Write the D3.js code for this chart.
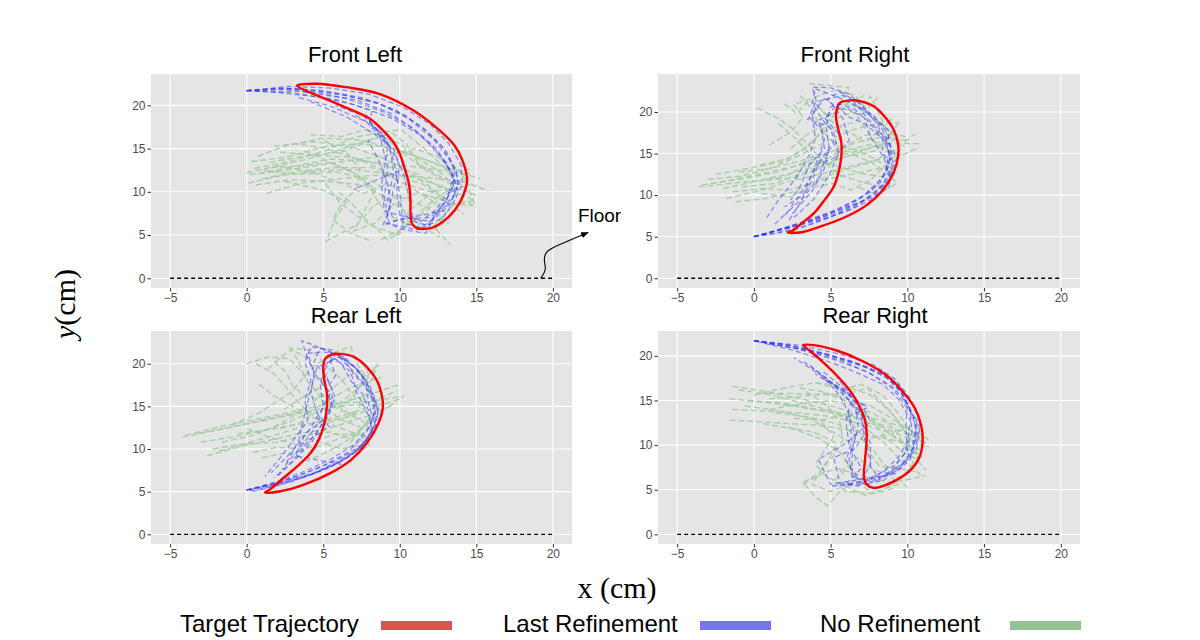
<!DOCTYPE html>
<html><head><meta charset="utf-8">
<script src="https://cdn.jsdelivr.net/npm/d3@7"></script>
<style>body{margin:0;background:#fff}</style>
</head><body><svg id="c" width="1200" height="640"></svg>
<script>
// ---------------- DATA ----------------
const panelNames = ["Front Left", "Front Right", "Rear Left", "Rear Right"];
const xTicks = [-5, 0, 5, 10, 15, 20];
const yTicks = [0, 5, 10, 15, 20];
const floorX = [-5, 20];
const legendLabels = ["Target Trajectory", "Last Refinement", "No Refinement"];
const floorArrow = [[19.2,0],[19.6,1],[19.4,2],[19.5,3],[20.0,3.6],[22.3,5.3]];
const floorLabelPos = [23.05, 6.5];

// Target trajectories (closed)
const targetFL = [[3.3,22.3],[4.6,22.5],[6.5,22.1],[8.7,21.3],[10.9,19.4],[12.6,17.1],[13.6,15.3],[14.1,13.6],[14.4,11.3],[14.1,9.4],[13.6,7.9],[12.8,6.5],[12.2,5.9],[11.5,5.7],[11.1,5.8],[10.8,6.3],[10.7,7.5],[10.7,9.0],[10.6,10.9],[10.3,12.8],[10.0,14.4],[9.6,15.7],[8.9,17.1],[8.1,18.4],[6.8,19.5],[5.5,20.5],[4.4,21.3],[3.5,22.0]];
const targetFR = [[2.2,5.5],[3.0,5.5],[4.3,6.2],[6.0,7.4],[7.35,8.8],[8.4,10.6],[9.1,12.65],[9.4,14.7],[9.4,16.1],[9.1,17.9],[8.4,19.7],[7.8,20.7],[6.9,21.3],[6.3,21.4],[5.6,21.1],[5.4,20.3],[5.35,19.3],[5.5,17.9],[5.7,16.3],[5.7,14.7],[5.5,12.65],[5.2,11.0],[4.6,9.4],[3.9,7.8],[3.1,6.6],[2.5,5.7]];
const targetRL = [[1.2,4.9],[2.2,5.05],[3.7,5.8],[5.5,7.2],[6.8,8.7],[7.85,10.7],[8.6,13.0],[8.9,14.95],[8.8,16.5],[8.5,18.06],[7.85,19.6],[7.0,20.8],[6.1,21.15],[5.5,21.05],[5.13,20.6],[5.0,19.6],[5.07,18.06],[5.24,16.5],[5.24,14.95],[5.07,13.0],[4.7,11.07],[4.16,9.5],[3.3,7.96],[2.4,6.6],[1.55,5.3]];
const targetRR = [[3.2,21.2],[3.9,21.2],[5.4,20.6],[7.1,19.4],[8.65,17.8],[9.75,15.9],[10.5,14.1],[10.9,12.2],[11.0,10.6],[10.8,8.7],[10.2,7.2],[9.3,6.1],[8.4,5.4],[7.8,5.2],[7.35,5.6],[7.17,6.5],[7.24,8.3],[7.35,10.9],[7.24,12.8],[6.8,14.6],[6.26,16.1],[5.4,17.8],[4.3,19.6],[3.55,20.7]];

// Last refinement trajectories (flat x,y lists)
const lastFL = [
 [0,21.7,2.5,22.0,5,21.7,7.5,20.9,9.8,19.4,11.5,17.4,12.8,15.1,13.6,12.6,13.4,10.1,12.6,7.9,11.8,6.1,10.9,6.6,10.6,9.4,10.2,12.4,9.3,15.4,7.8,18.1,5.5,19.9,3.4,20.9],
 [0,21.7,3,21.9,6,21.3,8.6,20.3,10.6,18.4,12.2,16.1,13.3,13.6,13.9,11.1,13.3,8.6,12.3,6.9,11.1,5.6,9.3,6.3,9.0,9.4,9.2,12.9,8.7,16.5,7.8,18.9],
 [0,21.7,2,21.5,4.5,21.0,7,20.1,9.5,18.5,11.3,16.6,12.6,14.3,13.5,11.9,13.1,9.3,12.3,7.3,11.7,5.2,10.3,5.6,9.1,6.4,9.6,10.4,9.9,12.4,7.0,10.3],
 [0,21.7,3.5,21.6,6.5,20.8,9,19.2,10.9,17.3,12.4,15.0,13.4,12.2,13.8,10.1,12.9,8.3,12.0,6.6,10.5,7.0,9.0,7.8,8.8,10.8,9.2,14.8,8.8,16.8,7.6,18.8,5.8,20.0],
 [0,21.7,2.8,22.2,5.5,22.0,8,21.3,10.2,19.8,12,17.8,13.2,15.6,14,13.1,14.1,10.9,13.5,8.7,12.8,7.0,11.5,5.8,10.2,6.4,10.0,9.8,9.6,13.6,9.2,15.7,8.3,17.6,7.0,19.0],
 [0,21.7,2.2,21.9,4.8,21.4,7.2,20.6,9.4,19.1,10.8,17.4,12.0,15.5,13.0,13.2,13.6,11.3,13.0,8.8,12.0,7.0,10.1,6.9,8.9,6.1,9.4,8.5,9.2,11.0,8.6,13.8,7.9,16.0],
 [0,21.7,2.0,22.0,4.2,21.8,6.4,21.2,8.6,20.2,10.4,18.8,11.8,17.0,13.0,14.8,13.7,12.4,13.8,10.6,13.0,9.6,12.4,8.0,11.4,6.6,10.0,7.4,9.8,10.2,10.0,13.0,9.6,15.0,8.4,16.6,6.6,18.6,4.2,20.4],
 [0,21.7,3.2,21.4,6.0,20.6,8.2,19.4,8.0,17.8,8.9,16.7,9.4,14.6,9.6,12.2,9.2,9.0,9.6,6.6,11.2,7.2,12.8,7.8,13.6,9.6,13.4,12.0,12.8,14.0]
];
const lastFR = [
 [0,5.0,1.5,5.8,3.2,6.8,5,8.0,6.8,9.5,8.2,11.4,8.8,13.5,8.9,15.8,8.3,18.2,7.2,20.2,6.0,21.3,5.0,20.6,4.7,18.3,4.9,15.8,4.6,13.2,3.8,10.5,2.5,7.8],
 [0,5.0,2,6.0,3.8,7.0,5.6,8.4,7.2,10.0,8.3,12.0,9.0,14.8,8.7,17.5,7.8,19.6,6.5,21.0,5.3,21.9,4.0,22.8,3.8,21.0,4.5,19.0,5.2,17.5,5.5,15.0,4.9,12.4,3.9,9.5,2.6,7.3],
 [0,5.0,1.8,5.6,3.5,6.4,5.4,7.7,7.0,9.2,8.4,11.2,9.0,13.6,8.6,16.4,7.9,18.9,7.0,20.8,6.2,22.2,5.0,22.9,3.8,23.0,4.2,20.5,3.5,19.1,5.0,18.2,5.2,16.5,4.3,14.0,3.7,11.5,3.0,9.0,2.3,7.0],
 [0,5.0,2.4,6.2,4.4,7.3,6.2,8.8,7.6,10.4,8.6,12.6,8.8,15.2,8.3,17.0,7.5,18.8,6.6,20.3,5.5,21.0,4.6,19.3,5.7,17.0,4.8,15.2,4.2,12.0,3.3,9.9,2.0,7.6],
 [0,5.0,1.5,5.4,3.0,6.0,4.8,7.2,6.5,8.5,7.9,10.2,8.8,12.3,9.3,14.4,8.9,16.0,8.0,18.0,7.1,19.9,6.4,21.6,5.6,22.4,4.8,21.6,5.8,19.2,6.2,16.6,5.2,14.4,4.2,13.8,3.2,10.6,2.2,8.0,1.3,6.4],
 [0,5.0,2.8,6.5,4.6,7.6,6.0,8.5,7.8,9.8,8.9,11.8,8.5,14.4,7.6,17.0,7.2,19.3,6.0,20.5,4.2,19.0,4.6,16.7,4.0,13.5,3.2,10.0,2.0,8.6],
 [0,5.0,2.2,6.0,4.0,7.0,5.8,8.2,7.4,9.6,8.6,11.4,9.2,13.4,8.7,15.6,8.8,17.8,7.8,19.4,6.8,21.2,5.8,22.0,4.0,21.2,3.6,19.4,4.4,17.8,4.6,15.6,3.6,13.6,3.0,11.0,2.4,9.4],
 [0,5.0,1.2,5.6,2.6,6.2,4.2,7.0,6.0,8.0,7.6,9.4,8.8,11.0,9.0,13.0,8.4,15.2,8.4,16.8,7.2,18.6,6.2,19.4,5.6,20.4,4.6,21.6,3.8,19.8,4.0,16.8,3.6,14.8,2.8,12.2,1.6,9.4,0.8,7.2]
];
const lastRL = [
 [0,5.2,1.6,5.8,3.3,6.8,5.0,8.0,6.6,9.6,7.7,11.6,8.3,13.6,8.3,15.8,7.8,18.0,7.0,19.8,6.0,20.8,5.2,20.0,4.8,17.6,5.0,15.2,4.6,12.8,3.6,10.4,2.3,7.6],
 [0,5.2,2.0,6.2,3.8,7.4,5.5,8.8,7.0,10.5,8.0,12.6,8.4,14.6,8.0,16.8,7.4,19.0,6.4,20.6,5.2,21.6,3.6,22.7,4.0,20.5,4.6,18.4,5.6,16.2,5.4,14.0,4.4,11.6,3.3,9.0,2.0,6.8],
 [0.4,5.0,2.2,5.8,4.0,6.9,5.8,8.2,7.2,9.8,8.1,11.8,8.6,14.2,8.2,16.6,7.5,18.6,6.4,20.8,5.0,21.4,4.0,21.2,4.4,19.0,4.2,16.6,4.6,14.2,5.4,12.6,4.0,11.0,3.0,8.6,1.8,6.6],
 [0,5.2,2.6,6.4,4.4,7.6,6.2,9.0,7.6,10.6,8.4,12.8,8.0,15.0,7.8,17.4,6.8,19.4,5.8,21.2,5.0,19.0,5.6,17.0,4.9,14.6,4.0,12.0,3.0,9.8,1.6,7.2],
 [0.2,5.1,1.4,5.5,3.0,6.2,4.8,7.4,6.4,8.8,7.6,10.4,8.4,12.4,8.6,14.8,8.0,17.6,7.2,19.4,6.0,21.0,4.8,21.8,4.4,20.2,5.2,18.6,5.8,16.0,5.0,13.4,3.8,11.8,3.2,9.2,6.2,8.2],
 [0,5.2,2.2,6.0,4.2,7.0,6.0,8.4,7.4,10.0,8.2,11.6,8.0,13.8,7.2,16.6,6.8,19.0,5.8,20.6,4.6,19.6,4.2,17.0,3.8,14.2,3.4,11.0,2.6,8.4],
 [0,5.2,1.8,5.8,3.6,6.6,5.4,7.8,6.8,9.2,7.8,11.0,8.4,13.0,8.4,15.4,7.8,17.2,7.0,18.8,6.4,20.4,5.6,21.6,4.2,22.0,3.8,20.2,4.2,18.0,3.8,15.8,4.0,13.4,3.2,11.4,2.2,9.0,1.2,6.8],
 [0.2,5.2,2.4,6.2,4.4,7.2,6.0,8.6,7.4,10.2,8.2,12.0,8.0,14.2,7.6,16.4,6.8,18.0,6.2,20.0,5.4,20.8,5.8,18.6,5.2,17.0,5.6,15.0,4.8,12.6,4.2,10.6,3.6,9.6]
];
const lastRR = [
 [0,21.7,2.5,21.1,5,20.0,7.2,18.8,8.8,17.4,9.8,15.4,10.4,13.2,10.6,11.0,10.2,8.8,9.4,7.2,8.2,6.2,7.6,7.6,7.6,10.2,7.0,12.8,6.2,15.0,4.8,17.4,3.2,19.4],
 [0,21.7,2.8,20.8,5.2,19.6,7.4,18.2,9.0,16.6,10.0,14.6,10.6,12.0,10.4,9.6,9.6,7.6,8.4,6.0,7.2,5.6,6.4,6.8,6.4,9.4,6.8,12.0,6.6,14.8,5.8,16.4,4.4,18.4],
 [0,21.7,2.2,21.0,4.6,20.2,6.8,19.0,8.6,17.8,9.6,16.0,10.2,13.8,10.3,11.4,9.8,9.0,9.0,7.2,7.4,5.6,5.0,5.4,7.0,5.8,7.6,8.0,7.2,10.8,7.0,13.6,5.6,16.2,4.0,18.0],
 [0,21.7,3.0,21.2,5.6,20.2,7.8,19.0,9.2,17.4,10.2,15.2,10.8,12.6,10.6,10.2,9.8,8.2,8.8,6.8,7.8,5.8,6.8,6.4,6.0,8.2,6.4,10.6,6.2,13.2,7.4,14.2,5.2,16.8,3.6,19.0],
 [0,21.7,2.0,21.3,4.2,20.4,6.4,19.4,8.2,18.2,9.4,16.8,10.0,14.2,9.9,12.0,10.0,9.4,9.2,7.8,8.0,6.6,6.8,5.4,5.6,5.8,5.2,8.6,6.6,9.6,7.4,11.8,6.8,14.4,6.2,15.6,4.6,17.6],
 [0.2,21.6,2.6,20.6,4.8,19.4,6.6,18.2,8.4,16.8,9.4,15.2,10.2,12.8,10.0,10.4,9.4,8.6,8.4,7.0,7.2,6.0,6.0,5.6,7.0,7.4,6.2,10.0,6.0,12.6,6.4,15.4,5.4,17.6],
 [0,21.7,2.4,21.2,4.8,20.2,7.0,19.0,8.6,17.6,9.6,16.0,10.2,14.0,10.8,11.8,10.6,9.6,9.8,8.0,8.6,6.6,7.2,6.0,6.4,6.4,6.2,8.4,6.6,11.0,6.2,13.4,5.6,15.6,4.4,17.8,2.6,19.8],
 [0,21.7,3.4,20.6,5.8,19.4,7.6,18.0,9.0,16.4,9.8,14.6,10.6,12.8,10.4,10.6,10.2,8.4,9.2,6.8,7.8,6.4,5.0,5.6,4.2,8.4,6.0,10.2,7.6,12.6,7.0,14.6,6.2,15.8,4.4,17.6]
];

// No refinement trajectories (flat x,y lists)
const noneFL = [
 [0.1,11.0,2,11.8,4.5,12.4,7,12.6,9.5,12.0,12,11.6,14.2,11.2,15.8,10.1],
 [0.8,12.1,3,12.9,5.5,13.8,8,13.5,10.5,13.0,13,12.4,14.5,12.6,13.8,11.0,12.2,9.0,10.8,6.8,9.5,4.7],
 [1.3,9.8,3.5,11.0,6,11.5,8.2,11.9,10.6,11.8,12.5,10.8,14.9,9.0,13.5,8.5,12.2,6.0,13.3,3.9],
 [0.7,14.1,2.5,15.3,5,16.2,7.3,16.0,9.2,15.2,11.2,14.0,13.1,12.8,14.6,12.1],
 [1.8,15.3,4.4,15.8,6.8,15.2,8.5,14.2,10.4,12.6,11.8,10.8,12.8,9.4,11.5,7.5,10.2,5.8,8.6,4.3],
 [0.2,12.0,2.2,12.4,4.8,13.1,7.5,13.8,9.4,14.3,11.0,15.0,12.4,14.1,13.6,12.9,14.3,11.4],
 [2.5,11.2,5,10.2,6.5,8.8,5.8,7.0,5.2,4.3,7.2,6.2,8.3,8.4,9.8,9.6,11.8,8.2,13.2,6.3],
 [1.5,13.4,4,14.2,6.2,14.6,8.2,16.0,9.5,16.8,10.4,15.6,11.2,13.3,12.6,11.8,14.5,10.3,15.0,8.2],
 [0.5,12.7,3,13.6,5.2,14.8,7,16.3,8.9,16.9,10.1,17.2,11.6,15.0,12.8,13.0,13.9,10.6],
 [3.8,14.7,5.6,13.3,7.2,12.0,8.4,10.2,7.8,8.2,7.0,5.5,8.4,6.4,9.6,8.6,11.2,9.9,12.9,9.0,14.2,7.4],
 [2,13.0,4.2,12.3,6.4,10.9,7.6,9.8,9.0,10.8,10.8,10.4,12.1,9.0,13.0,7.6,12.2,5.2],
 [1.1,12.5,3.2,12.0,5.8,12.3,7.9,11.5,9.3,10.1,10.2,8.2,10.6,6.3,9.9,5.0,8.1,6.1,6.1,8.7,5.0,11.3],
 [0.3,13.5,2.6,14.0,5.0,15.2,7.4,15.6,9.6,15.0,11.6,13.8,13.4,12.4,15.2,11.6],
 [1.0,11.5,3.4,12.4,5.8,12.8,8.2,12.8,10.2,11.0,12.0,10.0,13.8,10.4,15.0,9.6],
 [0.6,10.8,2.8,11.4,5.2,11.2,7.6,10.8,9.2,9.2,10.4,7.6,11.4,6.0,12.6,4.8],
 [2.2,14.6,4.6,14.2,6.8,14.0,9.0,13.0,11.0,12.2,12.8,10.4,14.0,9.0,15.0,8.4],
 [4.2,16.6,6.2,16.4,7.8,17.2,9.2,16.0,10.4,14.2,11.8,12.4,13.2,11.0,14.6,10.8],
 [5.0,16.0,6.6,14.4,7.4,12.6,7.2,10.4,6.2,8.6,5.6,6.8,6.8,5.2,8.0,4.4],
 [1.6,12.8,3.6,13.0,5.4,13.4,7.0,12.2,8.0,10.6,8.6,8.8,9.4,7.2,10.6,6.2,12.4,5.6],
 [3.0,15.6,5.2,15.0,7.2,13.8,8.8,12.6,10.0,11.6,11.4,11.0,12.6,9.6,13.6,8.6,14.8,8.4],
 [0.0,12.2,2.0,13.0,4.0,13.8,6.0,14.8,7.6,15.8,8.8,16.4,10.0,15.6,11.0,14.0,12.4,12.6,13.4,11.0],
 [6.0,10.0,7.0,8.4,7.8,6.8,8.6,5.6,9.2,4.4,10.0,5.4,10.6,7.8,11.6,9.2,12.8,10.8]
];
const noneFR = [
 [-3.4,11.2,-1.5,11.8,0.5,12.6,2.5,13.4,4.5,14.3,6.5,15.2,8.5,16.2,10.8,16.2],
 [-3.0,11.9,-0.8,12.3,1.2,13.3,3.0,14.8,4.8,16.5,6.3,17.8,7.8,18.5,9.5,18.7],
 [-1.8,9.6,0.3,10.5,2.2,11.6,3.8,12.3,5.4,13.0,7.0,13.8,8.7,14.6,10.5,17.4],
 [0.2,20.5,1.6,19.2,2.5,18.0,3.6,16.0,4.4,14.2,5.6,12.4,7.0,11.6,8.3,11.0,9.3,12.8],
 [-1.2,9.2,0.8,9.6,2.6,10.4,4.0,11.6,5.8,12.3,7.4,12.9,8.8,13.4,9.6,15.0],
 [2.0,21.0,2.8,19.8,3.6,21.5,4.6,20.0,5.2,18.6,6.4,17.4,7.2,16.4,8.2,17.8,9.0,19.2],
 [3.6,23.4,4.8,23.2,6.2,22.9,5.6,21.0,6.8,20.6,7.6,21.9,8.1,20.0,8.6,18.0,9.0,16.6],
 [-2.5,12.5,-0.4,13.2,1.8,14.0,3.2,15.4,4.4,17.6,5.0,19.2,5.8,20.8,7.2,22.0],
 [-0.8,11.0,1.4,11.4,2.9,12.5,4.8,13.8,6.4,14.9,7.6,14.0,8.8,12.6,9.3,11.4,8.0,10.0,6.8,11.0],
 [0.5,10.2,2.4,9.8,3.6,10.9,5.1,11.4,6.3,10.6,7.6,11.8,8.7,13.8,9.8,16.0],
 [1.0,16.0,2.4,17.6,3.2,19.4,2.6,20.9,4.0,21.8,5.2,22.6,6.6,22.0,7.4,20.2],
 [-2.0,10.8,0.0,11.6,2.0,12.2,3.4,13.6,5.0,14.6,6.0,16.0,7.2,17.2,8.9,17.4,10.0,17.0],
 [-3.6,11.0,-1.6,11.4,0.4,11.8,2.4,12.6,4.2,13.6,6.0,14.6,7.8,15.8,9.4,16.8],
 [-2.8,11.4,-0.6,12.0,1.6,12.8,3.4,14.0,5.0,15.2,6.8,16.4,8.4,17.0,10.0,16.6],
 [-1.4,10.4,0.6,10.8,2.2,10.6,3.8,11.4,5.2,12.6,6.6,13.4,8.0,14.2,9.0,15.6],
 [3.0,22.0,3.8,20.4,4.2,18.6,4.8,17.0,5.6,15.6,6.8,14.8,8.0,15.4,8.8,17.2,9.4,18.6],
 [1.6,18.6,2.6,17.0,3.4,15.4,4.2,14.0,5.6,13.4,7.0,12.6,8.4,12.2,9.2,13.4],
 [2.4,15.6,3.4,17.2,4.6,18.6,5.8,19.6,7.0,20.2,8.0,19.0,8.8,17.8,9.6,16.4],
 [0.4,13.6,2.2,14.4,3.6,16.0,4.4,17.6,5.4,18.2,6.6,18.8,7.6,20.8,8.2,22.0],
 [-1.0,12.8,1.0,13.2,2.8,14.0,4.6,15.0,6.2,15.8,7.2,15.0,8.2,14.0,9.0,12.6,8.6,11.0],
 [4.0,21.0,4.8,19.4,5.6,20.6,6.6,19.8,7.2,18.2,7.8,16.6,8.4,15.4,9.6,14.8,10.6,15.6],
 [0.8,11.8,2.4,12.0,3.8,12.8,5.2,14.0,6.0,15.4,7.4,16.0,8.6,16.6,9.2,18.0]
];
const noneRL = [
 [-4.2,11.4,-2.0,12.2,0.2,13.0,2.4,13.8,4.6,14.6,6.6,15.6,8.4,16.6,10.0,17.6],
 [-3.2,11.8,-1.0,12.6,1.0,13.4,3.2,14.2,5.2,14.8,7.2,15.2,8.8,15.8,10.3,16.2],
 [-2.6,9.2,-0.6,10.2,1.4,11.0,3.4,11.8,5.4,12.4,7.0,13.4,8.6,14.2,9.8,15.6],
 [0.6,20.0,1.8,18.8,2.6,17.2,3.4,15.4,4.4,13.8,5.6,12.8,6.8,12.0,8.0,11.4,8.4,13.0],
 [2.8,22.0,3.4,20.2,3.8,18.4,4.6,16.6,5.2,14.8,6.2,13.4,7.4,12.6,8.0,10.4,7.2,9.6],
 [0.0,12.4,1.8,11.2,3.2,10.6,4.6,11.0,5.8,11.8,7.0,11.6,7.8,10.6,6.2,10.0,4.8,10.8],
 [1.4,19.4,2.4,21.0,3.0,21.8,4.2,21.6,5.0,20.2,5.8,21.4,6.8,22.0,7.2,20.0,7.8,18.4,8.6,20.0],
 [-1.6,10.8,0.4,11.6,1.8,12.6,3.0,13.8,4.4,15.6,5.8,17.4,6.6,18.6,7.6,19.2],
 [-1.0,12.8,0.8,14.2,2.0,15.6,3.0,16.8,3.8,18.6,4.6,20.0,5.6,21.0,6.4,21.4],
 [1.0,9.0,2.8,9.6,4.0,8.6,5.4,9.8,6.6,11.0,7.6,12.6,8.4,14.4,9.4,15.0],
 [-2.2,10.0,-0.2,10.6,1.8,11.6,3.6,12.6,5.6,13.6,7.2,14.4,7.8,16.4,8.2,18.4,8.6,19.8],
 [2.4,14.6,3.6,16.0,4.8,17.2,5.4,19.4,6.2,18.2,6.8,16.6,7.6,15.0,8.0,13.6,7.4,12.0,6.6,10.4],
 [-4.0,11.6,-1.8,12.6,0.4,13.4,2.6,14.2,4.6,15.0,6.4,15.4,8.2,15.6,9.8,16.8],
 [-3.0,10.8,-1.0,11.4,1.2,12.2,3.0,12.8,5.0,13.2,6.8,13.8,8.2,14.8,10.2,16.0],
 [-1.8,9.8,0.0,10.6,2.0,10.8,3.8,11.6,5.4,12.0,6.8,11.2,7.8,12.8,8.6,14.0],
 [0.8,17.6,1.8,16.2,2.8,15.2,4.0,14.0,5.2,13.0,6.4,13.6,7.4,14.6,8.4,15.2],
 [1.8,20.2,2.6,19.0,3.0,17.4,3.8,16.2,4.8,15.8,5.8,15.2,6.8,14.0,7.8,13.0,8.2,11.6],
 [0.0,20.0,1.4,20.8,2.8,20.6,3.6,19.0,4.2,17.4,5.0,16.2,6.0,14.6,7.2,14.0],
 [2.2,12.4,3.4,13.0,4.4,14.2,5.8,15.0,6.8,16.4,7.6,17.6,8.2,19.0,8.6,20.0],
 [-0.6,11.8,1.2,12.2,2.8,13.2,4.2,14.4,5.4,15.8,6.6,17.0,7.6,17.8,8.8,18.4],
 [3.2,21.4,4.0,20.6,4.4,19.0,5.0,17.8,5.4,16.0,6.2,15.0,7.0,16.2,7.6,18.2,8.0,19.4],
 [0.4,9.6,2.0,10.2,3.6,10.0,4.8,10.4,6.0,11.2,7.2,12.0,8.0,13.2,8.8,15.4]
];
const noneRR = [
 [-1.4,16.6,0.8,16.0,3.0,15.2,5.0,14.4,7.0,13.4,9.0,12.4,10.4,11.6,11.4,10.6],
 [-1.6,15.2,0.6,14.8,2.6,14.4,4.6,13.8,6.6,13.0,8.4,12.0,10.2,10.6,11.2,9.8],
 [-1.6,12.8,0.4,12.6,2.4,12.4,4.4,12.2,6.4,11.6,8.4,10.8,10.0,10.2,11.0,8.6],
 [0.0,15.6,2.0,16.4,4.0,17.0,6.0,16.6,7.6,15.6,8.6,14.2,9.6,12.4,10.4,10.2,10.8,7.8],
 [1.4,13.6,3.4,13.2,5.4,12.4,6.8,11.0,7.8,9.4,8.4,8.0,9.2,6.8,10.0,5.2],
 [3.4,16.0,4.8,14.4,5.6,12.6,5.8,10.6,5.2,8.8,4.4,7.2,3.8,5.6,5.0,4.8,6.2,5.6],
 [1.0,14.0,3.0,14.6,5.0,15.0,6.6,14.4,7.8,12.6,8.6,10.8,9.6,9.4,10.6,8.4,11.2,7.2],
 [2.2,12.0,4.0,11.4,5.4,10.2,5.0,8.8,4.2,6.8,3.2,5.8,4.0,4.2,4.8,3.2,5.6,4.8,6.6,6.0],
 [0.4,15.8,2.4,15.8,4.4,15.6,6.2,15.8,7.4,16.4,8.2,15.0,9.0,13.6,9.8,11.6,10.2,9.4],
 [2.6,13.0,4.4,12.8,6.0,13.4,7.4,13.8,8.6,12.8,9.4,11.2,9.8,9.8,10.4,8.0,9.6,6.2,8.4,5.0],
 [5.6,7.0,6.8,8.6,7.8,7.2,8.8,6.8,9.4,5.6,7.6,4.6,6.0,4.8,5.2,6.0,6.4,7.8],
 [-0.6,14.4,1.8,13.8,3.6,13.0,5.2,11.4,6.4,10.2,7.6,10.8,8.8,11.2,10.0,12.0,10.8,10.6],
 [-1.0,16.2,1.2,15.6,3.4,14.6,5.6,13.6,7.4,12.8,9.2,11.8,10.6,10.8,11.4,9.8],
 [-1.4,14.0,0.8,13.8,3.0,13.6,5.0,13.2,7.0,12.4,8.8,11.4,10.2,9.8,11.0,9.4],
 [-0.4,15.0,1.6,14.8,3.6,14.2,5.6,13.4,7.2,12.0,8.4,10.4,9.4,8.6,10.4,7.4,11.0,6.4],
 [3.0,16.4,4.4,16.0,6.0,15.2,7.6,14.4,8.8,13.2,9.8,12.0,10.6,11.2,11.2,10.2],
 [4.0,17.0,5.6,16.2,7.0,16.8,8.4,15.6,9.2,14.0,9.8,12.6,10.2,11.0,10.0,9.2],
 [0.6,12.4,2.6,11.8,4.2,10.8,5.6,9.2,6.2,7.8,6.6,6.2,7.4,5.0,8.6,5.6,9.8,6.4],
 [2.0,14.6,3.8,14.0,5.2,13.8,6.4,12.4,7.2,10.8,7.6,9.0,8.2,7.6,9.4,7.4,10.6,7.0],
 [1.0,15.2,2.8,15.4,4.6,15.8,6.2,14.8,7.4,13.4,8.2,12.2,9.2,10.8,10.0,9.6,10.8,8.8],
 [3.2,5.6,4.4,6.8,5.4,7.4,6.6,6.8,7.8,6.2,9.0,5.8,10.2,6.2,11.2,6.6],
 [4.4,12.6,5.2,11.0,4.6,9.4,4.0,7.8,4.8,6.4,6.0,5.4,7.2,4.4,8.4,4.8,9.2,5.2]
];

// ---------------- DRAW ----------------
const svg = d3.select("#c");
const pairs = a => d3.range(0, a.length, 2).map(i => [a[i], a[i + 1]]);

const panels = [
  {name: panelNames[0], target: targetFL, last: lastFL, none: noneFL, box: [151, 572, 74, 288], tx: 355, ty: 62},
  {name: panelNames[1], target: targetFR, last: lastFR, none: noneFR, box: [658, 1080, 74, 288], tx: 855, ty: 62},
  {name: panelNames[2], target: targetRL, last: lastRL, none: noneRL, box: [151, 572, 331, 544], tx: 356, ty: 323},
  {name: panelNames[3], target: targetRR, last: lastRR, none: noneRR, box: [658, 1080, 331, 544], tx: 875, ty: 323}
];

const C = {red: "#ff0000", blue: "#3333ff", green: "#a4cca4"};
const sans = "'Liberation Sans', Arial, Helvetica, sans-serif";
const serif = "'Liberation Serif', 'DejaVu Serif', serif";

let flScales = null;
panels.forEach((p, pi) => {
  const [L, R, T, B] = p.box;
  const xe = d3.extent(floorX), xs = xe[1] - xe[0];
  const x = d3.scaleLinear().domain([xe[0] - 0.05 * xs, xe[1] + 0.05 * xs]).range([L, R]);
  const allY = [0].concat(p.target.map(d => d[1]),
    ...p.last.map(t => pairs(t).map(d => d[1])),
    ...p.none.map(t => pairs(t).map(d => d[1])));
  const ye = d3.extent(allY), ys = ye[1] - ye[0];
  const y = d3.scaleLinear().domain([ye[0] - 0.05 * ys, ye[1] + 0.05 * ys]).range([B, T]);
  if (pi === 0) flScales = {x, y};

  const g = svg.append("g");
  g.append("rect").attr("x", L).attr("y", T).attr("width", R - L).attr("height", B - T).attr("fill", "#e5e5e5");
  g.selectAll(".gx").data(xTicks).join("line")
    .attr("x1", d => x(d)).attr("x2", d => x(d)).attr("y1", T).attr("y2", B)
    .attr("stroke", "#fff").attr("stroke-width", 1.1);
  g.selectAll(".gy").data(yTicks).join("line")
    .attr("y1", d => y(d)).attr("y2", d => y(d)).attr("x1", L).attr("x2", R)
    .attr("stroke", "#fff").attr("stroke-width", 1.1);

  const xa = g.append("g").attr("transform", `translate(0,${B})`)
    .call(d3.axisBottom(x).tickValues(xTicks).tickSize(3.5).tickPadding(2).tickFormat(d => d < 0 ? "\u2212" + Math.abs(d) : d));
  const ya = g.append("g").attr("transform", `translate(${L},0)`)
    .call(d3.axisLeft(y).tickValues(yTicks).tickSize(3.5).tickPadding(2));
  [xa, ya].forEach(a => {
    a.select(".domain").remove();
    a.selectAll(".tick line").attr("stroke", "#333");
    a.selectAll(".tick text").attr("fill", "#4d4d4d").style("font-family", sans).style("font-size", "12px");
  });

  const line = d3.line().x(d => x(d[0])).y(d => y(d[1]));
  g.append("path").datum(floorX.map(v => [v, 0])).attr("d", line)
    .attr("stroke", "#000").attr("stroke-width", 1.3).attr("stroke-dasharray", "4,3").attr("fill", "none");
  g.selectAll(".none").data(p.none).join("path").attr("d", t => line(pairs(t)))
    .attr("fill", "none").attr("stroke", C.green).attr("stroke-opacity", 0.95)
    .attr("stroke-width", 1.4).attr("stroke-dasharray", "6,3");
  g.selectAll(".last").data(p.last).join("path").attr("d", t => line(pairs(t)))
    .attr("fill", "none").attr("stroke", C.blue).attr("stroke-opacity", 0.55)
    .attr("stroke-width", 1.2).attr("stroke-dasharray", "5,3");
  g.append("path").datum(p.target)
    .attr("d", d3.line().x(d => x(d[0])).y(d => y(d[1])).curve(d3.curveCatmullRomClosed.alpha(0.5)))
    .attr("fill", "none").attr("stroke", C.red).attr("stroke-width", 2.4);

  svg.append("text").attr("x", p.tx).attr("y", p.ty)
    .attr("text-anchor", "middle").style("font-family", sans).style("font-size", "22px").attr("fill", "#000")
    .text(p.name);
});

// Floor annotation
svg.append("defs").append("marker").attr("id", "ah").attr("viewBox", "0 0 10 10")
  .attr("refX", 9).attr("refY", 5).attr("markerWidth", 7).attr("markerHeight", 7).attr("orient", "auto")
  .append("path").attr("d", "M0,1 L10,5 L0,9 Z").attr("fill", "#000");
svg.append("path").datum(floorArrow)
  .attr("d", d3.line().x(d => flScales.x(d[0])).y(d => flScales.y(d[1])).curve(d3.curveBasis))
  .attr("fill", "none").attr("stroke", "#000").attr("stroke-width", 1.1).attr("marker-end", "url(#ah)");
svg.append("text").attr("x", flScales.x(floorLabelPos[0])).attr("y", flScales.y(floorLabelPos[1]))
  .attr("text-anchor", "middle").style("font-family", sans).style("font-size", "19px").text("Floor");

// Axis labels
svg.append("text").attr("transform", "translate(75,304) rotate(-90)").attr("text-anchor", "middle")
  .style("font-family", serif).style("font-size", "30px")
  .html('<tspan font-style="italic">y</tspan>(cm)');
svg.append("text").attr("x", 617).attr("y", 598).attr("text-anchor", "middle")
  .style("font-family", serif).style("font-size", "30px")
  .text("x (cm)");

// Legend
const legColors = ["#d9534f", "#7676f2", "#94c294"];
const legX = [180, 503, 820];
const legSw = [381, 700, 1010];
legendLabels.forEach((lab, i) => {
  svg.append("text").attr("x", legX[i]).attr("y", 632).style("font-family", sans).style("font-size", "24px")
    .attr("fill", "#000").text(lab);
  svg.append("rect").attr("x", legSw[i]).attr("y", 621).attr("width", 71).attr("height", 9).attr("fill", legColors[i]);
});
</script>
</body></html>
